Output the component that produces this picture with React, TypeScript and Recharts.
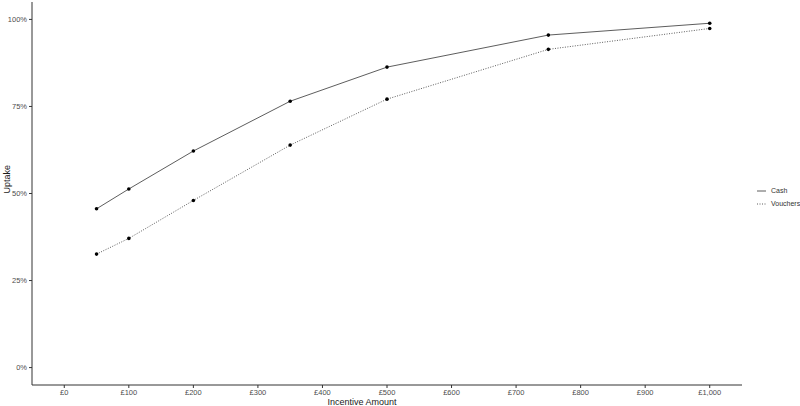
import { LineChart, Line, XAxis, YAxis } from 'recharts';

const amounts = [50, 100, 200, 350, 500, 750, 1000];
const cashUptake = [0.456, 0.513, 0.622, 0.765, 0.863, 0.955, 0.989];
const voucherUptake = [0.326, 0.371, 0.48, 0.639, 0.771, 0.914, 0.974];
const xTicks = [0, 100, 200, 300, 400, 500, 600, 700, 800, 900, 1000];
const yTicks = [0, 0.25, 0.5, 0.75, 1];

const data = amounts.map((a, i) => ({ amount: a, cash: cashUptake[i], vouchers: voucherUptake[i] }));

const fmtMoney = (v: number) => '£' + v.toLocaleString('en-GB');
const fmtPct = (v: number) => Math.round(v * 100) + '%';

const font = 'Arial, "Liberation Sans", sans-serif';

const LegendBox = () => (
  <div style={{ position: 'absolute', left: 756, top: 184, fontFamily: font, fontSize: 7, color: '#333', whiteSpace: 'nowrap' }}>
    <div style={{ display: 'flex', alignItems: 'center', height: 13 }}>
      <svg width={11} height={6}><line x1={1} y1={3} x2={10} y2={3} stroke="#333" strokeWidth={0.8} /></svg>
      <span style={{ marginLeft: 4 }}>Cash</span>
    </div>
    <div style={{ display: 'flex', alignItems: 'center', height: 13 }}>
      <svg width={11} height={6}><line x1={1} y1={3} x2={10} y2={3} stroke="#333" strokeWidth={0.8} strokeDasharray="1 1.5" /></svg>
      <span style={{ marginLeft: 4 }}>Vouchers</span>
    </div>
  </div>
);

const Dot = (props: any) => {
  const { cx, cy } = props;
  return <circle cx={cx} cy={cy} r={1.8} fill="#000" />;
};

export default function App() {
  document.body.style.margin = '0';
  return (
    <div style={{ width: 800, height: 406, background: '#fff', position: 'relative', overflow: 'hidden' }}>
      <LineChart width={800} height={406} data={data} margin={{ top: 2, right: 58, left: 10, bottom: 0 }}>
        <XAxis
          dataKey="amount"
          type="number"
          domain={[-50, 1050]}
          ticks={xTicks}
          tickFormatter={fmtMoney}
          allowDataOverflow
          height={21}
          tickSize={3}
          stroke="#333"
          tick={{ fontSize: 7.5, fill: '#4d4d4d', fontFamily: font }}
          label={{ value: 'Incentive Amount', position: 'insideBottom', offset: 1, dx: -25, fontSize: 9, fill: '#1a1a1a', fontFamily: font }}
        />
        <YAxis
          type="number"
          domain={[-0.05, 1.05]}
          ticks={yTicks}
          tickFormatter={fmtPct}
          allowDataOverflow
          width={22}
          tickSize={3}
          stroke="#333"
          tick={{ fontSize: 7.5, fill: '#4d4d4d', fontFamily: font }}
          label={{ value: 'Uptake', angle: -90, position: 'insideLeft', offset: -3, fontSize: 9, fill: '#1a1a1a', fontFamily: font }}
        />
        <Line dataKey="cash" stroke="#333" strokeWidth={0.8} dot={<Dot />} activeDot={false} isAnimationActive={false} />
        <Line dataKey="vouchers" stroke="#333" strokeWidth={0.8} strokeDasharray="1 1.5" dot={<Dot />} activeDot={false} isAnimationActive={false} />
      </LineChart>
      <LegendBox />
    </div>
  );
}
